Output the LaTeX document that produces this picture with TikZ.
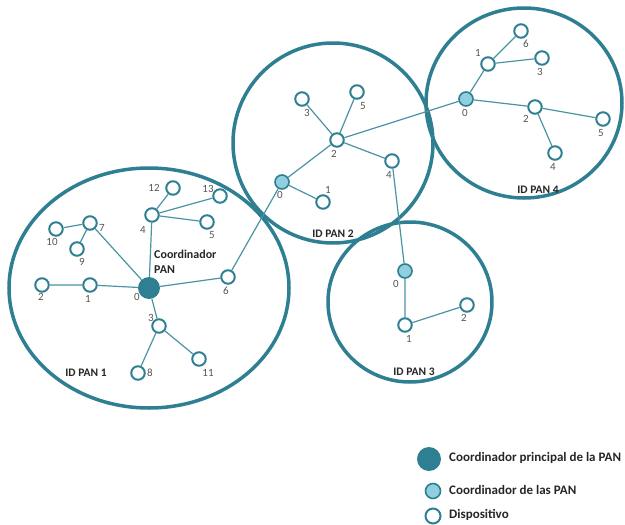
\documentclass[tikz,border=0pt]{standalone}
\usepackage{fontspec}
\setmainfont{Carlito}
\begin{document}
\definecolor{teal}{HTML}{2F7F92}
\definecolor{edgec}{HTML}{4A93A4}
\definecolor{light}{HTML}{8FCFE0}
\definecolor{numc}{HTML}{555555}
\begin{tikzpicture}[x=1pt,y=-1pt,
  dev/.style={circle,draw=teal,line width=2pt,fill=white,minimum size=13.5pt,inner sep=0pt},
  coord/.style={circle,draw=teal,line width=1.6pt,fill=light,minimum size=14pt,inner sep=0pt},
  mainc/.style={circle,fill=teal,minimum size=22pt,inner sep=0pt},
  pan/.style={draw=teal,line width=3.5pt},
  link/.style={draw=edgec,line width=1.2pt},
  num/.style={text=numc,font=\fontsize{11}{12}\selectfont,inner sep=0pt},
  tag/.style={font=\bfseries\fontsize{11.5}{13}\selectfont,text=black!85,inner sep=0pt},
  legend/.style={font=\bfseries\fontsize{13}{15}\selectfont,text=black!85,anchor=west,inner sep=0pt}]
\useasboundingbox (0,0) rectangle (625,525);

% network areas
\draw[pan] (149,288) ellipse [x radius=140, y radius=120];
\draw[pan] (333,143) ellipse [x radius=100, y radius=100];
\draw[pan] (410,302) ellipse [x radius=82, y radius=80];
\draw[pan] (524,103) ellipse [x radius=98, y radius=95];

% PAN 1
\node[mainc] (a0) at (149,288) {};
\node[dev] (a1) at (90,285) {};
\node[dev] (a2) at (42,285) {};
\node[dev] (a3) at (159,326) {};
\node[dev] (a4) at (152,215) {};
\node[dev] (a5) at (207,222) {};
\node[dev] (a6) at (228,277) {};
\node[dev] (a7) at (90,223) {};
\node[dev] (a8) at (138,373) {};
\node[dev] (a9) at (77,249) {};
\node[dev] (a10) at (56,229) {};
\node[dev] (a11) at (199,359) {};
\node[dev] (a12) at (173,188) {};
\node[dev] (a13) at (220,196) {};

% PAN 2
\node[coord] (b0) at (282,182) {};
\node[dev] (b1) at (323,202) {};
\node[dev] (b2) at (337,140) {};
\node[dev] (b3) at (302,99) {};
\node[dev] (b4) at (392,161) {};
\node[dev] (b5) at (357,92) {};

% PAN 3
\node[coord] (c0) at (405,271) {};
\node[dev] (c1) at (405,325) {};
\node[dev] (c2) at (467,305) {};

% PAN 4
\node[coord] (d0) at (466,99) {};
\node[dev] (d1) at (488,64) {};
\node[dev] (d2) at (535,107) {};
\node[dev] (d3) at (542,58) {};
\node[dev] (d4) at (555,153) {};
\node[dev] (d5) at (603,119) {};
\node[dev] (d6) at (521,31) {};

% links
\path[link] (a0) -- (a1) (a1) -- (a2) (a0) -- (a7) (a7) -- (a10) (a7) -- (a9)
  (a0) -- (a4) (a4) -- (a12) (a4) -- (a13) (a4) -- (a5) (a0) -- (a6)
  (a0) -- (a3) (a3) -- (a8) (a3) -- (a11) (a6) -- (b0);
\path[link] (b0) -- (b1) (b0) -- (b2) (b2) -- (b3) (b2) -- (b5) (b2) -- (b4)
  (b2) -- (d0) (b4) -- (c0);
\path[link] (c0) -- (c1) (c1) -- (c2);
\path[link] (d0) -- (d1) (d1) -- (d6) (d1) -- (d3) (d0) -- (d2) (d2) -- (d5) (d2) -- (d4);

% node numbers
\node[num] (na0) at (137,297) {0};
\node[num] (na1) at (88,299) {1};
\node[num] (na2) at (41,297) {2};
\node[num] (na3) at (151,318) {3};
\node[num] (na4) at (143,230) {4};
\node[num] (na5) at (212,235) {5};
\node[num] (na6) at (226,291) {6};
\node[num] (na7) at (102,228) {7};
\node[num] (na8) at (150,373) {8};
\node[num] (na9) at (82,262) {9};
\node[num] (na10) at (52,242) {10};
\node[num] (na11) at (208,373) {11};
\node[num] (na12) at (154,188) {12};
\node[num] (na13) at (208,189) {13};

\node[num] (nb0) at (280,195) {0};
\node[num] (nb1) at (328,190) {1};
\node[num] (nb2) at (334,154) {2};
\node[num] (nb3) at (307,113) {3};
\node[num] (nb4) at (389,175) {4};
\node[num] (nb5) at (363,106) {5};

\node[num] (nc0) at (396,284) {0};
\node[num] (nc1) at (409,339) {1};
\node[num] (nc2) at (464,318) {2};

\node[num] (nd0) at (465,113) {0};
\node[num] (nd1) at (478,53) {1};
\node[num] (nd2) at (526,119) {2};
\node[num] (nd3) at (540,72) {3};
\node[num] (nd4) at (553,167) {4};
\node[num] (nd5) at (601,133) {5};
\node[num] (nd6) at (526,44) {6};

% captions
\node[tag,anchor=west,align=left,font=\bfseries\fontsize{12}{14.5}\selectfont] (cap) at (154,262) {Coordinador\\PAN};
\node[tag] (id1) at (86,373) {ID PAN 1};
\node[tag] (id2) at (333,234) {ID PAN 2};
\node[tag] (id3) at (414,372) {ID PAN 3};
\node[tag] (id4) at (538,190) {ID PAN 4};

% legend
\node[mainc,minimum size=24pt] (k1) at (429,459) {};
\node[coord,minimum size=15pt] (k2) at (433,491) {};
\node[dev,minimum size=15pt] (k3) at (433,516) {};
\node[legend] (t1) at (449,458) {Coordinador principal de la PAN};
\node[legend] (t2) at (449,490) {Coordinador de las PAN};
\node[legend] (t3) at (449,515) {Dispositivo};
\end{tikzpicture}
\end{document}
